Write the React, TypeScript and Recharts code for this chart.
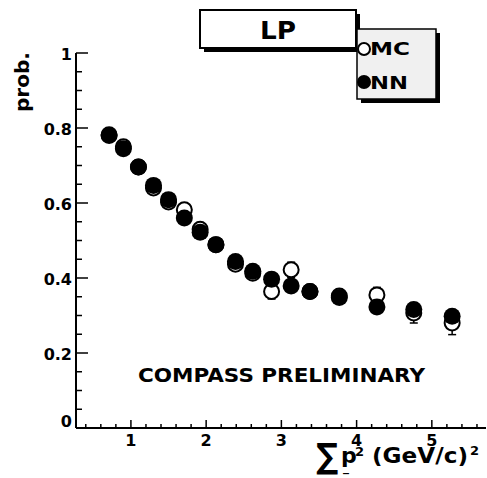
import React from 'react';
import {
  ScatterChart,
  Scatter,
  XAxis,
  YAxis,
  ErrorBar,
} from 'recharts';

// sum of pT^2 bins
const binX = [0.71, 0.9, 1.1, 1.3, 1.5, 1.71, 1.92, 2.13, 2.39, 2.62, 2.87, 3.13, 3.38, 3.77, 4.27, 4.76, 5.27];
const nnProb = [0.782, 0.745, 0.696, 0.647, 0.609, 0.56, 0.522, 0.489, 0.444, 0.418, 0.397, 0.379, 0.364, 0.348, 0.323, 0.316, 0.298];
const mcProb = [0.78, 0.75, 0.696, 0.64, 0.603, 0.582, 0.53, 0.489, 0.437, 0.413, 0.364, 0.422, 0.364, 0.352, 0.355, 0.307, 0.28];
const mcErr = [0.008, 0.008, 0.008, 0.009, 0.01, 0.01, 0.011, 0.012, 0.014, 0.016, 0.02, 0.02, 0.014, 0.015, 0.02, 0.027, 0.031];

const xTicks = [0.4, 0.6, 0.8, 1, 1.2, 1.4, 1.6, 1.8, 2, 2.2, 2.4, 2.6, 2.8, 3, 3.2, 3.4, 3.6, 3.8, 4, 4.2, 4.4, 4.6, 4.8, 5, 5.2, 5.4, 5.6];
const xLabels = ['1', '2', '3', '4', '5'];
const yTicks = [0, 0.05, 0.1, 0.15, 0.2, 0.25, 0.3, 0.35, 0.4, 0.45, 0.5, 0.55, 0.6, 0.65, 0.7, 0.75, 0.8, 0.85, 0.9, 0.95, 1];
const yLabels = ['0', '0.2', '0.4', '0.6', '0.8', '1'];

const mcData = binX.map((x, i) => ({ x, y: mcProb[i], err: mcErr[i] }));
const nnData = binX.map((x, i) => ({ x, y: nnProb[i] }));

const FONT = '"DejaVu Sans", sans-serif';

const isMajor = (v: number, step: number) => Math.abs(v / step - Math.round(v / step)) < 1e-6;

function YTick(props: any) {
  const { x, y, payload } = props;
  const v = payload.value;
  const major = isMajor(v, 0.2);
  const label = major ? yLabels[Math.round(v / 0.2)] : null;
  return (
    <g>
      <line x1={x} x2={x + (major ? 12 : 6)} y1={y} y2={y} stroke="#000" strokeWidth={1.5} />
      {label && (
        <text x={x - 4} y={v === 0 ? y - 1 : y + 7} textAnchor="end" fontFamily={FONT} fontWeight="bold" fontSize={16} fill="#000">
          {label}
        </text>
      )}
    </g>
  );
}

function XTick(props: any) {
  const { x, y, payload } = props;
  const v = payload.value;
  const major = isMajor(v, 1);
  const label = major ? xLabels[Math.round(v) - 1] : null;
  return (
    <g>
      <line x1={x} x2={x} y1={y} y2={y - (major ? 8 : 4)} stroke="#000" strokeWidth={1.5} />
      {label && (
        <text x={x} y={y + 18} textAnchor="middle" fontFamily={FONT} fontWeight="bold" fontSize={16} fill="#000">
          {label}
        </text>
      )}
    </g>
  );
}

const OpenDot = (p: any) => (
  <circle cx={p.cx} cy={p.cy} r={7.5} fill="#fff" stroke="#000" strokeWidth={2} />
);
const FullDot = (p: any) => <circle cx={p.cx} cy={p.cy} r={8.5} fill="#000" />;

function Overlay() {
  const t = { fontFamily: FONT, fontWeight: 'bold' as const, fill: '#000' };
  return (
    <svg width={487} height={478} style={{ position: 'absolute', left: 0, top: 0, pointerEvents: 'none' }}>
      {/* title box */}
      <rect x={204} y={14} width={156} height={38} fill="#000" />
      <rect x={200} y={10} width={156} height={38} fill="#fff" stroke="#000" strokeWidth={2} />
      <text {...t} x={260} y={39} fontSize={24} textLength={36} lengthAdjust="spacingAndGlyphs">LP</text>

      {/* legend */}
      <rect x={361} y={33} width={79} height={70} fill="#000" />
      <rect x={357} y={29} width={79} height={70} fill="#f0f0f0" stroke="#000" strokeWidth={1.5} />
      <circle cx={364} cy={49} r={6} fill="#fff" stroke="#000" strokeWidth={2} />
      <text {...t} x={370} y={55} fontSize={18} textLength={40} lengthAdjust="spacingAndGlyphs">MC</text>
      <circle cx={364} cy={82} r={7} fill="#000" />
      <text {...t} x={370} y={89} fontSize={18} textLength={38} lengthAdjust="spacingAndGlyphs">NN</text>

      <text {...t} x={138} y={382} fontSize={20} textLength={287} lengthAdjust="spacingAndGlyphs">COMPASS PRELIMINARY</text>

      {/* y title */}
      <text {...t} x={29} y={52} fontSize={20} textAnchor="end" transform="rotate(-90 29 52)" textLength={60} lengthAdjust="spacingAndGlyphs">prob.</text>

      {/* x title */}
      <text {...t} x={316} y={468} fontSize={35} textLength={22} lengthAdjust="spacingAndGlyphs">∑</text>
      <text {...t} x={341} y={463} fontSize={22}>p</text>
      <text {...t} x={355} y={456} fontSize={13}>2</text>
      <text {...t} x={343} y={471} fontSize={12}>_</text>
      <text {...t} x={372} y={463} fontSize={22} textLength={96} lengthAdjust="spacingAndGlyphs">(GeV/c)</text>
      <text {...t} x={470} y={455} fontSize={13}>2</text>
    </svg>
  );
}

export default function App() {
  return (
    <div style={{ position: 'absolute', left: 0, top: 0, width: 487, height: 478, background: '#fff' }}>
      <ScatterChart width={487} height={478} margin={{ top: 53, right: 1, bottom: 0, left: 16 }}>
        <XAxis
          type="number"
          dataKey="x"
          domain={[0.27, 5.72]}
          ticks={xTicks}
          interval={0}
          tickSize={0}
          tickMargin={0}
          tick={<XTick />}
          height={50}
          axisLine={{ stroke: '#000', strokeWidth: 2 }}
          allowDataOverflow
        />
        <XAxis xAxisId="top" orientation="top" type="number" domain={[0.27, 5.72]} height={0} tick={false} tickLine={false} axisLine={{ stroke: '#000', strokeWidth: 1.5 }} />
        <YAxis
          type="number"
          dataKey="y"
          domain={[0, 1]}
          ticks={yTicks}
          interval={0}
          tickSize={0}
          tickMargin={0}
          tick={<YTick />}
          width={60}
          axisLine={{ stroke: '#000', strokeWidth: 2 }}
          allowDataOverflow
        />
        <YAxis yAxisId="right" orientation="right" type="number" domain={[0, 1]} width={0} tick={false} tickLine={false} axisLine={{ stroke: '#000', strokeWidth: 1 }} />
        <Scatter data={mcData} shape={OpenDot} isAnimationActive={false}>
          <ErrorBar dataKey="err" direction="y" width={4} stroke="#000" strokeWidth={1.5} />
        </Scatter>
        <Scatter data={nnData} shape={FullDot} isAnimationActive={false} />
      </ScatterChart>
      <Overlay />
    </div>
  );
}
